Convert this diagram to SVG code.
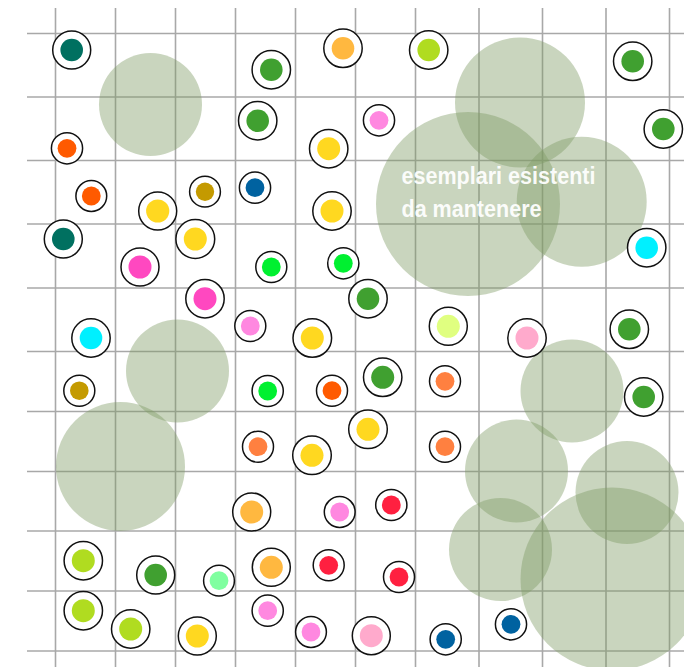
<svg xmlns="http://www.w3.org/2000/svg" width="684" height="667" viewBox="0 0 684 667">
<style>
.grid line{stroke:#a8a8a8;stroke-width:1.6}
.canopy{fill:#7f9a63;fill-opacity:0.42}
.ring{fill:#fff;stroke:#111;stroke-width:1.5}
.lbl{font-family:"Liberation Sans",Arial,sans-serif;font-weight:bold;font-size:23px;fill:#fff;fill-opacity:0.95}
.teal{fill:#007060}.green{fill:#40a030}.ored{fill:#ff5a00}.yel{fill:#ffd820}.olive{fill:#c49a00}
.oyel{fill:#ffb840}.lime{fill:#b0dc20}.pink{fill:#ff88e0}.blue{fill:#0062a0}.mag{fill:#ff48c0}
.cyan{fill:#00f0ff}.bgreen{fill:#00f030}.lyg{fill:#e0ff80}.lpink{fill:#ffaacc}.orange{fill:#ff8040}
.red{fill:#ff2040}.lgreen{fill:#80ffa0}
</style>
<rect width="684" height="667" fill="#fff"/>
<g class="grid">
<line x1="27" y1="33.5" x2="684" y2="33.5"/>
<line x1="27" y1="97" x2="684" y2="97"/>
<line x1="27" y1="160.5" x2="684" y2="160.5"/>
<line x1="27" y1="224" x2="684" y2="224"/>
<line x1="27" y1="288" x2="684" y2="288"/>
<line x1="27" y1="351.5" x2="684" y2="351.5"/>
<line x1="27" y1="411.5" x2="684" y2="411.5"/>
<line x1="27" y1="471.5" x2="684" y2="471.5"/>
<line x1="27" y1="531" x2="684" y2="531"/>
<line x1="27" y1="591" x2="684" y2="591"/>
<line x1="27" y1="651" x2="684" y2="651"/>
<line x1="55.5" y1="8" x2="55.5" y2="667"/>
<line x1="115.5" y1="8" x2="115.5" y2="667"/>
<line x1="175.5" y1="8" x2="175.5" y2="667"/>
<line x1="235.5" y1="8" x2="235.5" y2="667"/>
<line x1="295.5" y1="8" x2="295.5" y2="667"/>
<line x1="355.5" y1="8" x2="355.5" y2="667"/>
<line x1="415.5" y1="8" x2="415.5" y2="667"/>
<line x1="479" y1="8" x2="479" y2="667"/>
<line x1="542.5" y1="8" x2="542.5" y2="667"/>
<line x1="606" y1="8" x2="606" y2="667"/>
<line x1="669.5" y1="8" x2="669.5" y2="667"/>
</g>
<g id="canopies">
<circle class="canopy" cx="150.5" cy="104.5" r="51.5"/>
<circle class="canopy" cx="520" cy="102.5" r="65"/>
<circle class="canopy" cx="468" cy="204" r="92"/>
<circle class="canopy" cx="581.7" cy="201.7" r="65"/>
<circle class="canopy" cx="177.5" cy="371" r="51.5"/>
<circle class="canopy" cx="120.5" cy="466.5" r="64.5"/>
<circle class="canopy" cx="572" cy="391" r="51.5"/>
<circle class="canopy" cx="516.5" cy="471" r="51.5"/>
<circle class="canopy" cx="627" cy="492.5" r="51.5"/>
<circle class="canopy" cx="500.5" cy="549.5" r="51.5"/>
<circle class="canopy" cx="612" cy="579" r="91.5"/>
</g>
<g id="label">
<text class="lbl" x="401.5" y="184" textLength="194" lengthAdjust="spacingAndGlyphs">esemplari esistenti</text>
<text class="lbl" x="401.5" y="217" textLength="140" lengthAdjust="spacingAndGlyphs">da mantenere</text>
</g>
<g id="trees">
<g id="t1"><circle class="ring" cx="71.7" cy="50" r="19"/><circle class="teal" cx="71.7" cy="50" r="11.3"/></g>
<g id="t2"><circle class="ring" cx="271.3" cy="69.7" r="19.2"/><circle class="green" cx="271.3" cy="69.7" r="11.3"/></g>
<g id="t3"><circle class="ring" cx="343" cy="48.3" r="19.2"/><circle class="oyel" cx="343" cy="48.3" r="11.3"/></g>
<g id="t4"><circle class="ring" cx="428.7" cy="50" r="19.2"/><circle class="lime" cx="428.7" cy="50" r="11.3"/></g>
<g id="t5"><circle class="ring" cx="632.7" cy="61.3" r="19.2"/><circle class="green" cx="632.7" cy="61.3" r="11.3"/></g>
<g id="t6"><circle class="ring" cx="67" cy="148.3" r="15.6"/><circle class="ored" cx="67" cy="148.3" r="9.4"/></g>
<g id="t7"><circle class="ring" cx="257.7" cy="120.7" r="19.2"/><circle class="green" cx="257.7" cy="120.7" r="11.3"/></g>
<g id="t8"><circle class="ring" cx="379" cy="120.3" r="15.6"/><circle class="pink" cx="379" cy="120.3" r="9.4"/></g>
<g id="t9"><circle class="ring" cx="328.7" cy="148.7" r="19.2"/><circle class="yel" cx="328.7" cy="148.7" r="11.5"/></g>
<g id="t10"><circle class="ring" cx="663.3" cy="129" r="19.2"/><circle class="green" cx="663.3" cy="129" r="11.3"/></g>
<g id="t11"><circle class="ring" cx="91.3" cy="196" r="15.4"/><circle class="ored" cx="91.3" cy="196" r="9.4"/></g>
<g id="t12"><circle class="ring" cx="205" cy="191.7" r="15.4"/><circle class="olive" cx="205" cy="191.7" r="9.2"/></g>
<g id="t13"><circle class="ring" cx="255" cy="187.7" r="15.6"/><circle class="blue" cx="255" cy="187.7" r="9.4"/></g>
<g id="t14"><circle class="ring" cx="157.7" cy="211" r="19"/><circle class="yel" cx="157.7" cy="211" r="11.6"/></g>
<g id="t15"><circle class="ring" cx="332" cy="211" r="19.2"/><circle class="yel" cx="332" cy="211" r="11.5"/></g>
<g id="t16"><circle class="ring" cx="63.3" cy="239" r="19"/><circle class="teal" cx="63.3" cy="239" r="11.3"/></g>
<g id="t17"><circle class="ring" cx="195.3" cy="239" r="19.4"/><circle class="yel" cx="195.3" cy="239" r="11.5"/></g>
<g id="t18"><circle class="ring" cx="646.7" cy="247.7" r="19.2"/><circle class="cyan" cx="646.7" cy="247.7" r="11.3"/></g>
<g id="t19"><circle class="ring" cx="140" cy="267" r="19"/><circle class="mag" cx="140" cy="267" r="11.5"/></g>
<g id="t20"><circle class="ring" cx="271.3" cy="267" r="15.5"/><circle class="bgreen" cx="271.3" cy="267" r="9.4"/></g>
<g id="t21"><circle class="ring" cx="343.3" cy="263.3" r="15.6"/><circle class="bgreen" cx="343.3" cy="263.3" r="9.4"/></g>
<g id="t22"><circle class="ring" cx="205" cy="298.7" r="19.2"/><circle class="mag" cx="205" cy="298.7" r="11.5"/></g>
<g id="t23"><circle class="ring" cx="368" cy="298.7" r="19.2"/><circle class="green" cx="368" cy="298.7" r="11.3"/></g>
<g id="t24"><circle class="ring" cx="250.3" cy="326" r="15.5"/><circle class="pink" cx="250.3" cy="326" r="9.4"/></g>
<g id="t25"><circle class="ring" cx="312.3" cy="338" r="19.3"/><circle class="yel" cx="312.3" cy="338" r="11.5"/></g>
<g id="t26"><circle class="ring" cx="91" cy="338" r="19.2"/><circle class="cyan" cx="91" cy="338" r="11.3"/></g>
<g id="t27"><circle class="ring" cx="448.3" cy="326.3" r="19"/><circle class="lyg" cx="448.3" cy="326.3" r="11.5"/></g>
<g id="t28"><circle class="ring" cx="527" cy="338" r="19.2"/><circle class="lpink" cx="527" cy="338" r="11.5"/></g>
<g id="t29"><circle class="ring" cx="629.3" cy="329.3" r="19.2"/><circle class="green" cx="629.3" cy="329.3" r="11.3"/></g>
<g id="t30"><circle class="ring" cx="79.3" cy="390.7" r="15.5"/><circle class="olive" cx="79.3" cy="390.7" r="9.3"/></g>
<g id="t31"><circle class="ring" cx="267.7" cy="391" r="15.6"/><circle class="bgreen" cx="267.7" cy="391" r="9.4"/></g>
<g id="t32"><circle class="ring" cx="332" cy="390.7" r="15.5"/><circle class="ored" cx="332" cy="390.7" r="9.4"/></g>
<g id="t33"><circle class="ring" cx="382.7" cy="377.3" r="19.2"/><circle class="green" cx="382.7" cy="377.3" r="11.5"/></g>
<g id="t34"><circle class="ring" cx="445" cy="381.3" r="15.5"/><circle class="orange" cx="445" cy="381.3" r="9.4"/></g>
<g id="t35"><circle class="ring" cx="643.7" cy="397" r="19.2"/><circle class="green" cx="643.7" cy="397" r="11.3"/></g>
<g id="t36"><circle class="ring" cx="258" cy="446.7" r="15.5"/><circle class="orange" cx="258" cy="446.7" r="9.4"/></g>
<g id="t37"><circle class="ring" cx="312" cy="455.3" r="19.3"/><circle class="yel" cx="312" cy="455.3" r="11.5"/></g>
<g id="t38"><circle class="ring" cx="368" cy="429.3" r="19.3"/><circle class="yel" cx="368" cy="429.3" r="11.5"/></g>
<g id="t39"><circle class="ring" cx="445" cy="446.7" r="15.5"/><circle class="orange" cx="445" cy="446.7" r="9.4"/></g>
<g id="t40"><circle class="ring" cx="251.7" cy="512" r="19"/><circle class="oyel" cx="251.7" cy="512" r="11.5"/></g>
<g id="t41"><circle class="ring" cx="339.7" cy="512" r="15.4"/><circle class="pink" cx="339.7" cy="512" r="9.4"/></g>
<g id="t42"><circle class="ring" cx="391.3" cy="505" r="15.6"/><circle class="red" cx="391.3" cy="505" r="9.4"/></g>
<g id="t43"><circle class="ring" cx="83.3" cy="560.7" r="19.2"/><circle class="lime" cx="83.3" cy="560.7" r="11.5"/></g>
<g id="t44"><circle class="ring" cx="155.7" cy="575" r="19"/><circle class="green" cx="155.7" cy="575" r="11.3"/></g>
<g id="t45"><circle class="ring" cx="219" cy="580.7" r="15.4"/><circle class="lgreen" cx="219" cy="580.7" r="9.4"/></g>
<g id="t46"><circle class="ring" cx="271.3" cy="567.3" r="19"/><circle class="oyel" cx="271.3" cy="567.3" r="11.5"/></g>
<g id="t47"><circle class="ring" cx="328.7" cy="565.3" r="15.5"/><circle class="red" cx="328.7" cy="565.3" r="9.4"/></g>
<g id="t48"><circle class="ring" cx="399" cy="577" r="15.5"/><circle class="red" cx="399" cy="577" r="9.4"/></g>
<g id="t49"><circle class="ring" cx="83.3" cy="610.7" r="19.2"/><circle class="lime" cx="83.3" cy="610.7" r="11.5"/></g>
<g id="t50"><circle class="ring" cx="130.7" cy="629" r="19.2"/><circle class="lime" cx="130.7" cy="629" r="11.5"/></g>
<g id="t51"><circle class="ring" cx="197.3" cy="636" r="19"/><circle class="yel" cx="197.3" cy="636" r="11.5"/></g>
<g id="t52"><circle class="ring" cx="267.7" cy="610.7" r="15.6"/><circle class="pink" cx="267.7" cy="610.7" r="9.4"/></g>
<g id="t53"><circle class="ring" cx="311" cy="632" r="15.4"/><circle class="pink" cx="311" cy="632" r="9.4"/></g>
<g id="t54"><circle class="ring" cx="371.3" cy="635.7" r="19"/><circle class="lpink" cx="371.3" cy="635.7" r="11.5"/></g>
<g id="t55"><circle class="ring" cx="445.7" cy="639.3" r="15.6"/><circle class="blue" cx="445.7" cy="639.3" r="9.4"/></g>
<g id="t56"><circle class="ring" cx="511" cy="624.3" r="15.6"/><circle class="blue" cx="511" cy="624.3" r="9.4"/></g>
</g>
</svg>
